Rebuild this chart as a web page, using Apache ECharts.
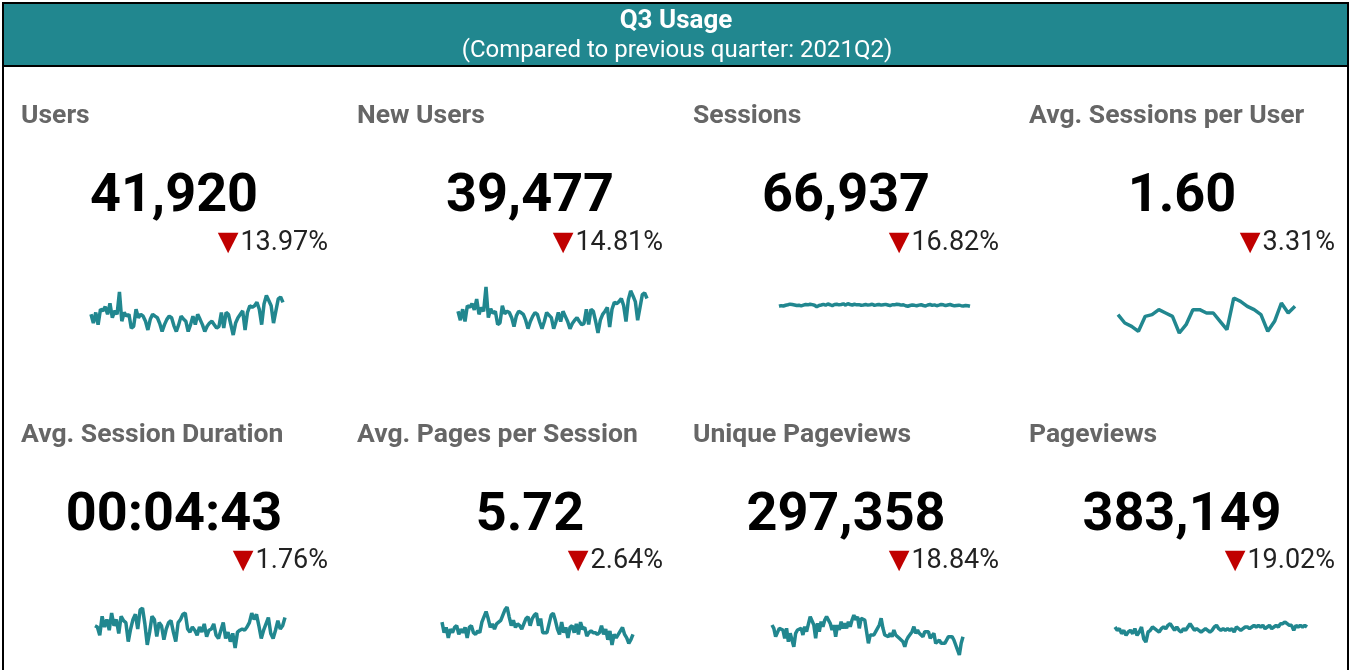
<!DOCTYPE html>
<html>
<head>
<meta charset="utf-8">
<title>Q3 Usage</title>
<script src="https://cdn.jsdelivr.net/npm/echarts@6/dist/echarts.min.js"></script>
<style>
  html, body { margin: 0; padding: 0; background: #fff; }
  #main { width: 1351px; height: 670px; }
</style>
</head>
<body>
<div id="main"></div>
<script>
// header texts
var headTitle = "Q3 Usage";
var headSub = "(Compared to previous quarter: 2021Q2)";

// scorecards
var cardNames = ["Users", "New Users", "Sessions", "Avg. Sessions per User",
  "Avg. Session Duration", "Avg. Pages per Session", "Unique Pageviews", "Pageviews"];
var cardValues = ["41,920", "39,477", "66,937", "1.60", "00:04:43", "5.72", "297,358", "383,149"];
var cardChanges = ["13.97%", "14.81%", "16.82%", "3.31%", "1.76%", "2.64%", "18.84%", "19.02%"];

// daily sparkline values
var usersDaily = [470,432,478,425,492,485,503,470,518,455,485,470,567,440,478,462,470,410,418,492,455,470,462,440,402,448,470,462,455,430,395,425,448,462,455,420,395,425,462,450,440,395,425,462,425,470,448,425,395,418,432,440,425,410,418,478,410,478,470,425,380,432,455,470,485,402,478,507,500,507,522,492,425,515,552,530,507,432,485,537,545,522];
var newUsersDaily = [440,405,448,400,462,455,470,445,488,428,455,440,535,415,450,432,440,388,395,462,430,440,435,415,380,422,440,435,428,405,372,400,420,435,428,398,372,400,435,425,415,372,400,435,400,440,420,400,372,392,405,415,400,388,392,448,388,448,440,400,355,405,428,440,455,378,448,475,470,478,490,462,400,485,520,500,478,405,455,505,512,490];
var sessionsDaily = [700,712,705,720,730,742,735,725,715,720,708,722,735,728,740,732,720,690,715,725,738,720,745,730,712,735,740,728,735,748,722,752,735,725,740,728,732,720,726,735,722,730,740,718,728,735,722,730,738,725,712,730,728,740,735,722,730,710,700,715,725,718,710,722,730,715,705,725,735,718,728,710,722,735,728,712,725,735,720,708,715,722,712,705,716,710,700];
var sessPerUser = [1.60,1.55,1.53,1.50,1.59,1.60,1.63,1.61,1.59,1.49,1.54,1.63,1.63,1.61,1.61,1.56,1.51,1.70,1.68,1.65,1.63,1.60,1.50,1.56,1.67,1.61,1.65];
var durationDaily = [290,288,275,305,288,300,283,310,290,300,278,305,298,295,265,285,300,308,285,315,318,293,260,280,305,300,273,295,290,268,285,295,298,280,265,295,300,308,310,285,280,288,283,275,288,280,293,273,283,285,293,275,270,283,295,270,280,265,278,255,280,283,285,283,288,295,310,300,308,290,270,283,293,303,278,270,283,298,285,290,303];
var pagesDaily = [5.65,5.35,5.50,5.20,5.45,5.35,5.50,5.55,5.30,5.45,5.35,5.50,5.20,5.50,5.55,5.35,5.30,5.40,5.35,5.65,5.80,5.95,5.75,5.50,5.60,5.45,5.60,5.65,5.70,5.85,6.00,6.08,5.80,5.55,5.70,5.50,5.60,5.55,5.45,5.60,5.75,5.80,5.55,5.75,5.85,5.90,5.55,5.75,5.35,5.35,5.35,5.60,5.85,5.90,5.70,5.45,5.30,5.65,5.35,5.50,5.20,5.50,5.55,5.35,5.60,5.30,5.65,5.45,5.50,5.25,5.35,5.40,5.35,5.35,5.30,5.35,5.55,5.30,5.45,5.15,5.40,5.00,5.30,5.20,5.30,5.40,5.50,5.30,5.20,5.05,5.15,5.30];
var uniqueDaily = [3300,3200,2950,2950,3200,3250,3150,2900,3200,2800,3050,3100,2650,3050,3150,3100,3200,3000,3250,3100,3150,3550,3600,3300,2900,3350,3100,3400,3250,3450,3550,3600,3350,3150,3300,2950,3300,3150,3400,3200,3350,3200,3400,3250,3450,3600,3450,3550,3200,3500,3550,3450,3100,2750,3000,3050,3000,3100,3050,3300,3500,3200,3000,3050,2950,3050,2950,3150,3000,2950,2900,2950,2800,2650,2850,2950,3000,3100,3250,3050,3150,3050,3100,2950,3100,3050,3100,2900,2950,3050,2750,2800,2850,2750,2800,2750,2800,2950,3000,2950,2850,2800,2550,2400,2750,2950];
var pageviewsDaily = [4150,4050,4100,3950,4050,3900,4000,4050,3950,4100,3900,4000,4150,3800,3700,4000,4050,4150,4100,4050,4000,4100,4150,4100,4200,4250,4150,4050,4150,4050,4000,4100,4050,4150,4250,4150,4050,4100,4050,4000,4050,4100,4050,4000,4050,4150,4200,4100,4050,4100,4050,4100,4050,4100,4000,4150,4100,4050,4100,4150,4150,4100,4150,4200,4150,4200,4150,4200,4100,4150,4200,4100,4150,4200,4150,4250,4250,4300,4250,4200,4200,4050,4200,4150,4200,4150,4200,4150];

var sparkData = [usersDaily, newUsersDaily, sessionsDaily, sessPerUser,
  durationDaily, pagesDaily, uniqueDaily, pageviewsDaily];

var TEAL = "#21878f";
var FONT = "Roboto, 'Noto Sans', sans-serif";

// layout of each card
var colTitleX = [21, 357, 693, 1029];
var colValueX = [174, 530, 846, 1182];
var colChangeX = [328, 663, 999, 1335];
var rowTitleY = [116, 435];
var rowValueY = [197, 516];
var rowChangeY = [243, 561];
// sparkline boxes [left, top, width, height]
var sparkBox = [
  [91, 292, 192, 43], [458, 287, 189, 46], [779, 290, 191, 30], [1118, 298, 177, 35],
  [95, 608, 190, 40], [442, 607, 191, 38], [772, 615, 191, 40], [1115, 622, 192, 20]
];

var graphics = [
  { type: "rect", shape: { x: 3, y: 3, width: 1345, height: 700 },
    style: { fill: "#fff", stroke: "#000", lineWidth: 2 }, z: 0 },
  { type: "rect", shape: { x: 3, y: 3, width: 1345, height: 63 },
    style: { fill: TEAL, stroke: "#000", lineWidth: 2 }, z: 1 },
  { type: "text", x: 676, y: 21, z: 2,
    style: { text: headTitle, fill: "#fff", font: "bold 26px " + FONT, textAlign: "center", textVerticalAlign: "middle" } },
  { type: "text", x: 677, y: 51, z: 2,
    style: { text: headSub, fill: "#fff", font: "24px " + FONT, textAlign: "center", textVerticalAlign: "middle" } }
];

var grids = [], xAxes = [], yAxes = [], series = [];
for (var i = 0; i < 8; i++) {
  var c = i % 4, r = Math.floor(i / 4);
  graphics.push({ type: "text", x: colTitleX[c], y: rowTitleY[r], z: 2,
    style: { text: cardNames[i], fill: "#666666", font: "bold 26.5px " + FONT, textVerticalAlign: "middle" } });
  graphics.push({ type: "text", x: colValueX[c], y: rowValueY[r], z: 2,
    style: { text: cardValues[i], fill: "#000", font: "bold 54px " + FONT, textAlign: "center", textVerticalAlign: "middle" } });
  graphics.push({ type: "text", x: colChangeX[c], y: rowChangeY[r], z: 2,
    style: {
      text: "{t|▼}{v|" + cardChanges[i] + "}",
      textAlign: "right", textVerticalAlign: "middle",
      rich: {
        t: { fill: "#c00000", font: "27px 'DejaVu Sans'", padding: [0, 2, 0, 0] },
        v: { fill: "#222", font: "27px " + FONT }
      }
    } });

  var b = sparkBox[i];
  grids.push({ left: b[0], top: b[1], width: b[2], height: b[3] });
  xAxes.push({ type: "category", gridIndex: i, show: false, boundaryGap: false,
    data: sparkData[i].map(function (v, k) { return k; }) });
  var ya = { type: "value", gridIndex: i, show: false, min: "dataMin", max: "dataMax" };
  if (i === 2) { ya.min = 425; ya.max = 1025; }
  yAxes.push(ya);
  series.push({ type: "line", xAxisIndex: i, yAxisIndex: i, data: sparkData[i],
    symbol: "none", smooth: false, silent: true,
    lineStyle: { color: TEAL, width: 3.5 }, z: 3 });
}

var myChart = echarts.init(document.getElementById("main"));
myChart.setOption({
  animation: false,
  backgroundColor: "#fff",
  graphic: { elements: graphics },
  grid: grids,
  xAxis: xAxes,
  yAxis: yAxes,
  series: series
});
</script>
</body>
</html>
